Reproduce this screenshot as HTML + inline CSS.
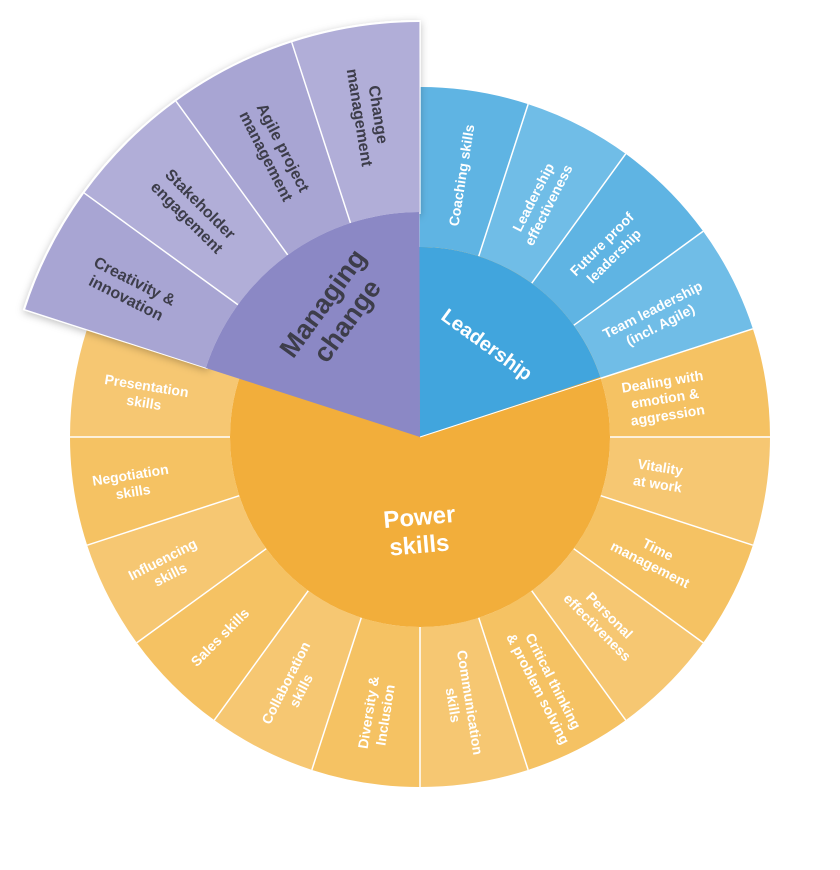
<!DOCTYPE html>
<html><head><meta charset="utf-8"><style>
html,body{margin:0;padding:0;background:#fff;}
svg{display:block;}
text{font-family:"Liberation Sans",sans-serif;font-weight:bold;}
</style></head><body>
<svg width="840" height="870" viewBox="0 0 840 870" xmlns="http://www.w3.org/2000/svg">
<defs>
<filter id="sh" x="-20%" y="-20%" width="140%" height="140%"><feDropShadow dx="0" dy="2" stdDeviation="4" flood-color="#000" flood-opacity="0.25"/></filter>
</defs>
<g fill="none" stroke-width="160">
<circle cx="420" cy="437" r="270" pathLength="360" stroke="#f5c263" stroke-dasharray="18 342" stroke-dashoffset="18"/>
<circle cx="420" cy="437" r="270" pathLength="360" stroke="#f6c772" stroke-dasharray="18 342" stroke-dashoffset="0"/>
<circle cx="420" cy="437" r="270" pathLength="360" stroke="#f5c263" stroke-dasharray="18 342" stroke-dashoffset="-18"/>
<circle cx="420" cy="437" r="270" pathLength="360" stroke="#f6c772" stroke-dasharray="18 342" stroke-dashoffset="-36"/>
<circle cx="420" cy="437" r="270" pathLength="360" stroke="#f5c263" stroke-dasharray="18 342" stroke-dashoffset="-54"/>
<circle cx="420" cy="437" r="270" pathLength="360" stroke="#f6c772" stroke-dasharray="18 342" stroke-dashoffset="-72"/>
<circle cx="420" cy="437" r="270" pathLength="360" stroke="#f5c263" stroke-dasharray="18 342" stroke-dashoffset="-90"/>
<circle cx="420" cy="437" r="270" pathLength="360" stroke="#f6c772" stroke-dasharray="18 342" stroke-dashoffset="-108"/>
<circle cx="420" cy="437" r="270" pathLength="360" stroke="#f5c263" stroke-dasharray="18 342" stroke-dashoffset="-126"/>
<circle cx="420" cy="437" r="270" pathLength="360" stroke="#f6c772" stroke-dasharray="18 342" stroke-dashoffset="-144"/>
<circle cx="420" cy="437" r="270" pathLength="360" stroke="#f5c263" stroke-dasharray="18 342" stroke-dashoffset="-162"/>
<circle cx="420" cy="437" r="270" pathLength="360" stroke="#f6c772" stroke-dasharray="18 342" stroke-dashoffset="-180"/>
<circle cx="420" cy="437" r="270" pathLength="360" stroke="#5fb4e3" stroke-dasharray="18 342" stroke-dashoffset="90"/>
<circle cx="420" cy="437" r="270" pathLength="360" stroke="#70bde7" stroke-dasharray="18 342" stroke-dashoffset="72"/>
<circle cx="420" cy="437" r="270" pathLength="360" stroke="#5fb4e3" stroke-dasharray="18 342" stroke-dashoffset="54"/>
<circle cx="420" cy="437" r="270" pathLength="360" stroke="#70bde7" stroke-dasharray="18 342" stroke-dashoffset="36"/>
</g>
<g stroke="#fff" stroke-width="1.5">
<line x1="610" y1="437" x2="770" y2="437" transform="rotate(-72 420 437)"/>
<line x1="610" y1="437" x2="770" y2="437" transform="rotate(-54 420 437)"/>
<line x1="610" y1="437" x2="770" y2="437" transform="rotate(-36 420 437)"/>
<line x1="610" y1="437" x2="770" y2="437" transform="rotate(0 420 437)"/>
<line x1="610" y1="437" x2="770" y2="437" transform="rotate(18 420 437)"/>
<line x1="610" y1="437" x2="770" y2="437" transform="rotate(36 420 437)"/>
<line x1="610" y1="437" x2="770" y2="437" transform="rotate(54 420 437)"/>
<line x1="610" y1="437" x2="770" y2="437" transform="rotate(72 420 437)"/>
<line x1="610" y1="437" x2="770" y2="437" transform="rotate(90 420 437)"/>
<line x1="610" y1="437" x2="770" y2="437" transform="rotate(108 420 437)"/>
<line x1="610" y1="437" x2="770" y2="437" transform="rotate(126 420 437)"/>
<line x1="610" y1="437" x2="770" y2="437" transform="rotate(144 420 437)"/>
<line x1="610" y1="437" x2="770" y2="437" transform="rotate(162 420 437)"/>
<line x1="610" y1="437" x2="770" y2="437" transform="rotate(180 420 437)"/>
<line x1="420" y1="437" x2="770" y2="437" transform="rotate(-18 420 437)"/>
</g>
<circle cx="420" cy="437" r="190" fill="#f2ae3b"/>
<circle cx="420" cy="437" r="95" fill="none" stroke="#41a5dd" stroke-width="190" pathLength="360" stroke-dasharray="72 288" stroke-dashoffset="90"/>
<line x1="420" y1="437" x2="610" y2="437" stroke="#fff" stroke-width="1" transform="rotate(-18 420 437)"/>
<g filter="url(#sh)">
<circle cx="420" cy="437" r="320" fill="none" stroke="#fff" stroke-width="194" pathLength="360" stroke-dasharray="72.4 287.6" stroke-dashoffset="-197.8"/>
</g>
<g fill="none" stroke-width="190">
<circle cx="420" cy="437" r="320" pathLength="360" stroke="#a8a5d3" stroke-dasharray="18 342" stroke-dashoffset="-198"/>
<circle cx="420" cy="437" r="320" pathLength="360" stroke="#b1aed8" stroke-dasharray="18 342" stroke-dashoffset="-216"/>
<circle cx="420" cy="437" r="320" pathLength="360" stroke="#a8a5d3" stroke-dasharray="18 342" stroke-dashoffset="-234"/>
<circle cx="420" cy="437" r="320" pathLength="360" stroke="#b1aed8" stroke-dasharray="18 342" stroke-dashoffset="-252"/>
</g>
<g stroke="#fff" stroke-width="1.5">
<line x1="645" y1="437" x2="835" y2="437" transform="rotate(216 420 437)"/>
<line x1="645" y1="437" x2="835" y2="437" transform="rotate(234 420 437)"/>
<line x1="645" y1="437" x2="835" y2="437" transform="rotate(252 420 437)"/>
</g>
<circle cx="420" cy="437" r="112.5" fill="none" stroke="#8b88c5" stroke-width="225" pathLength="360" stroke-dasharray="72 288" stroke-dashoffset="-198"/>

<text x="420" y="525" font-size="24" fill="#fff" text-anchor="middle" transform="rotate(-5 420 525)">Power</text>
<text x="420" y="553" font-size="24" fill="#fff" text-anchor="middle" transform="rotate(-5 420 553)">skills</text>
<text x="0" y="0" font-size="20" fill="#fff" text-anchor="middle" transform="translate(483 350) rotate(36)">Leadership</text>
<g transform="translate(335 312) rotate(-54)" font-size="27" fill="#3d3d4a" text-anchor="middle">
<text x="0" y="-6">Managing</text><text x="0" y="24">change</text></g>

<g font-size="14" fill="#fff" text-anchor="middle">
<g transform="rotate(-81 420 437) translate(685 437)"><text x="0" y="5">Coaching skills</text></g>
<g transform="rotate(-63 420 437) translate(685 437)"><text x="0" y="-3">Leadership</text><text x="0" y="14">effectiveness</text></g>
<g transform="rotate(-45 420 437) translate(685 437)"><text x="0" y="-3">Future proof</text><text x="0" y="14">leadership</text></g>
<g transform="rotate(-27 420 437) translate(685 437)"><text x="0" y="-3">Team leadership</text><text x="0" y="14">(incl. Agile)</text></g>
</g>
<g font-size="14" fill="#fff" text-anchor="middle">
<g transform="rotate(-9 420 437) translate(668 437)"><text x="0" y="-12">Dealing with</text><text x="0" y="5">emotion &amp;</text><text x="0" y="22">aggression</text></g>
<g transform="rotate(9 420 437) translate(662 437)"><text x="0" y="-3">Vitality</text><text x="0" y="14">at work</text></g>
<g transform="rotate(27 420 437) translate(683 437)"><text x="0" y="-3">Time</text><text x="0" y="14">management</text></g>
<g transform="rotate(45 420 437) translate(680 437)"><text x="0" y="-3">Personal</text><text x="0" y="14">effectiveness</text></g>
<g transform="rotate(63 420 437) translate(698 437)"><text x="0" y="-3">Critical thinking</text><text x="0" y="14">&amp; problem solving</text></g>
<g transform="rotate(81 420 437) translate(690 437)"><text x="0" y="-3">Communication</text><text x="0" y="14">skills</text></g>
<g transform="rotate(99 420 437) translate(700 437) rotate(180)"><text x="0" y="-3">Diversity &amp;</text><text x="0" y="14">Inclusion</text></g>
<g transform="rotate(117 420 437) translate(700 437) rotate(180)"><text x="0" y="-3">Collaboration</text><text x="0" y="14">skills</text></g>
<g transform="rotate(135 420 437) translate(703 437) rotate(180)"><text x="0" y="5">Sales skills</text></g>
<g transform="rotate(153 420 437) translate(705 437) rotate(180)"><text x="0" y="-3">Influencing</text><text x="0" y="14">skills</text></g>
<g transform="rotate(171 420 437) translate(712 437) rotate(180)"><text x="0" y="-3">Negotiation</text><text x="0" y="14">skills</text></g>
<g transform="rotate(189 420 437) translate(698 437) rotate(180)"><text x="0" y="-3">Presentation</text><text x="0" y="14">skills</text></g>
</g>
<g font-size="16" fill="#3d3d4a" text-anchor="middle">
<g transform="rotate(207 420 437) translate(745 437) rotate(180)"><text x="0" y="-4">Creativity &amp;</text><text x="0" y="15">innovation</text></g>
<g transform="rotate(225 420 437) translate(740 437) rotate(180)"><text x="0" y="-4">Stakeholder</text><text x="0" y="15">engagement</text></g>
<g transform="rotate(243 420 437) translate(740 437) rotate(180)"><text x="0" y="-4">Agile project</text><text x="0" y="15">management</text></g>
<g transform="rotate(261 420 437) translate(745 437) rotate(180)"><text x="0" y="-4">Change</text><text x="0" y="15">management</text></g>
</g>
</svg>
</body></html>
